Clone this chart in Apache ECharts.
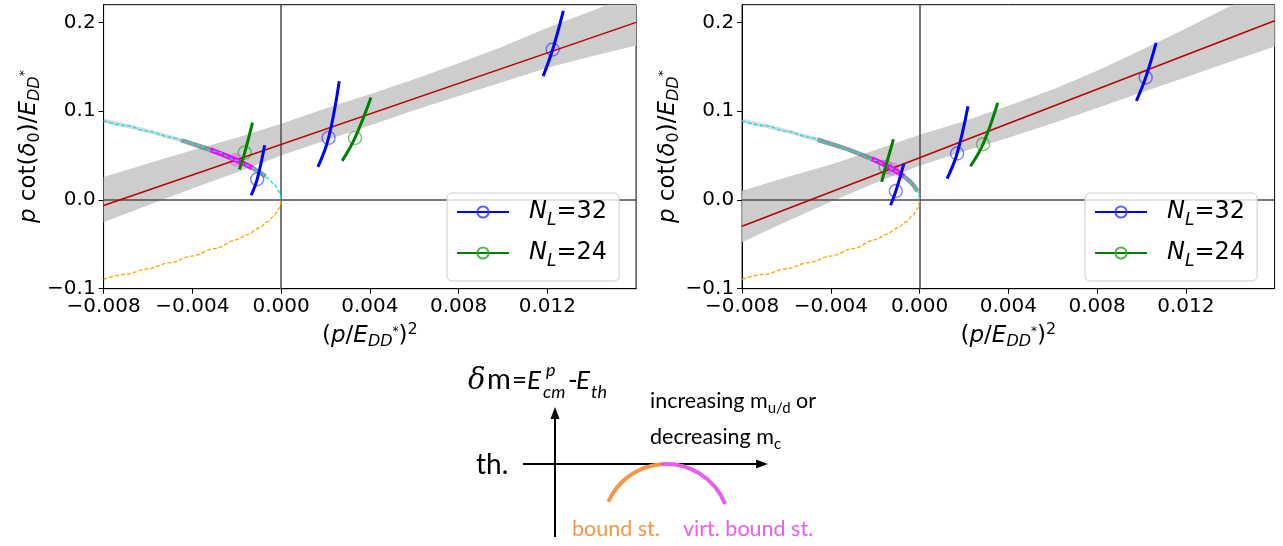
<!DOCTYPE html>
<html><head><meta charset="utf-8">
<script src="https://cdn.jsdelivr.net/npm/echarts@6/dist/echarts.min.js"></script>
<style>html,body{margin:0;padding:0;background:#fff}#c{width:1283px;height:546px}</style>
</head><body><div id="c"></div>
<script>
// ---------- tick labels ----------
const xTicks = [-0.008, -0.004, 0, 0.004, 0.008, 0.012];
const xTickLabels = ['\u22120.008', '\u22120.004', '0.000', '0.004', '0.008', '0.012'];
const yTicks = [-0.1, 0, 0.1, 0.2];
const yTickLabels = ['\u22120.1', '0.0', '0.1', '0.2'];

// ---------- threshold curves ----------
const curveX  = [-0.008, -0.007, -0.006, -0.005, -0.004, -0.003, -0.002, -0.0015, -0.001, -0.0006, -0.0003, -0.0001, 0];
const cyanY   = [0.0894, 0.0837, 0.0775, 0.0707, 0.0632, 0.0548, 0.0447, 0.0387, 0.0316, 0.0245, 0.0173, 0.0100, 0];
const orangeY = [-0.0894, -0.0837, -0.0775, -0.0707, -0.0632, -0.0548, -0.0447, -0.0387, -0.0316, -0.0245, -0.0173, -0.0100, 0];

// ---------- left panel ----------
const bandX = [-0.008, -0.006, -0.004, -0.002, 0, 0.002, 0.004, 0.006, 0.008, 0.010, 0.012, 0.014, 0.016];
const bandUpperL = [0.026, 0.041, 0.056, 0.070, 0.086, 0.103, 0.119, 0.136, 0.154, 0.173, 0.194, 0.213, 0.233];
const bandLowerL = [-0.025, -0.006, 0.013, 0.031, 0.050, 0.067, 0.084, 0.101, 0.117, 0.133, 0.149, 0.162, 0.174];
const fitXL = [-0.008, 0.016];
const fitYL = [-0.0063, 0.2001];
const greyLightL = [[-0.008, 0.0894], [-0.007, 0.0837], [-0.006, 0.0775], [-0.005, 0.0707], [-0.0045, 0.0671]];
const greyDarkL = [[-0.0045, 0.0671], [-0.004, 0.0632], [-0.003, 0.0548], [-0.002, 0.0447], [-0.0015, 0.0387], [-0.001, 0.0316], [-0.0007, 0.0265]];
const magentaL = [[-0.0032, 0.0566], [-0.0028, 0.0529], [-0.0024, 0.049], [-0.002, 0.0447], [-0.0016, 0.04], [-0.0013, 0.0361]];
const poleL = [[-0.00204, 0.0452]];
const blueSegsL = [
  [[-0.00135, 0.0053], [-0.00108, 0.0233], [-0.00074, 0.0617]],
  [[0.00166, 0.0372], [0.00214, 0.0699], [0.00262, 0.1338]],
  [[0.01181, 0.1395], [0.01224, 0.1695], [0.01272, 0.2131]]
];
const greenSegsL = [
  [[-0.00188, 0.0342], [-0.00164, 0.0534], [-0.00129, 0.0872]],
  [[0.00275, 0.044], [0.00333, 0.0699], [0.00405, 0.1154]]
];
const blueMarksL = [[-0.00108, 0.0233], [0.00214, 0.0699], [0.01224, 0.1695]];
const greenMarksL = [[-0.00164, 0.0534], [0.00333, 0.0699]];

// ---------- right panel ----------
const bandUpperR = [0.0103, 0.0256, 0.0399, 0.0562, 0.0735, 0.0888, 0.1061, 0.1244, 0.1457, 0.169, 0.1933, 0.2186, 0.2439];
const bandLowerR = [-0.0477, -0.0244, -0.0021, 0.0192, 0.0385, 0.0548, 0.0701, 0.0864, 0.1037, 0.121, 0.1383, 0.1556, 0.1729];
const fitXR = [-0.008, 0.016];
const fitYR = [-0.0297, 0.2019];
const greyLightR = [[-0.008, 0.0894], [-0.007, 0.0837], [-0.006, 0.0775], [-0.005, 0.0707], [-0.0046, 0.0678]];
const greyDarkR = [[-0.0046, 0.0678], [-0.004, 0.0632], [-0.003, 0.0548], [-0.002, 0.0447], [-0.0015, 0.0387], [-0.001, 0.0316], [-0.0006, 0.0245], [-0.0003, 0.0173], [-0.0001, 0.0100]];
const magentaR = [[-0.00215, 0.0464], [-0.0018, 0.0424], [-0.0014, 0.0374], [-0.001, 0.0316], [-0.00072, 0.0268]];
const poleR = [[-0.00124, 0.0352]];
const blueSegsR = [
  [[-0.00131, -0.006], [-0.00107, 0.0101], [-0.00071, 0.041]],
  [[0.00124, 0.024], [0.00169, 0.0523], [0.00218, 0.1056]],
  [[0.00977, 0.1116], [0.01019, 0.138], [0.01066, 0.177]]
];
const greenSegsR = [
  [[-0.00171, 0.0203], [-0.00153, 0.0372], [-0.00118, 0.0684]],
  [[0.00229, 0.038], [0.00286, 0.0628], [0.00352, 0.1094]]
];
const blueMarksR = [[-0.00107, 0.0101], [0.00169, 0.0523], [0.01019, 0.138]];
const greenMarksR = [[-0.00153, 0.0372], [0.00286, 0.0628]];

const legendNames = ['NL32', 'NL24'];

// ---------- build ----------
const FONT = 'DejaVu Sans';
const DFONT = 'Lato, "Noto Sans", "DejaVu Sans", sans-serif';
const BLUE = '#0000ff', GREEN = '#008000';
const BLUE_M = 'rgba(40,40,255,0.75)', GREEN_M = 'rgba(40,160,40,0.8)';

function fmt(ticks, labels) {
  return function (v) {
    for (let i = 0; i < ticks.length; i++) if (Math.abs(v - ticks[i]) < 1e-9) return labels[i];
    return '';
  };
}
const LH = 28;
const richBase = {
  n: { fontFamily: FONT, fontSize: 23, lineHeight: LH, verticalAlign: 'middle', color: '#000' },
  i: { fontFamily: FONT, fontSize: 23, fontStyle: 'italic', lineHeight: LH, verticalAlign: 'middle', color: '#000' },
  sub: { fontFamily: FONT, fontSize: 16, fontStyle: 'italic', lineHeight: LH, verticalAlign: 'bottom', color: '#000' },
  subn: { fontFamily: FONT, fontSize: 16, lineHeight: LH, verticalAlign: 'bottom', color: '#000' },
  sup: { fontFamily: FONT, fontSize: 12, lineHeight: LH, verticalAlign: 'top', color: '#000', padding: [4, 0, 0, 0] },
  sup2: { fontFamily: FONT, fontSize: 16, lineHeight: LH, verticalAlign: 'top', color: '#000' }
};

const grids = [], xAxes = [], yAxes = [], series = [], legends = [];
const gridLefts = [103.6, 742.1];
const legendLefts = [447, 1085];

function panel(g, d) {
  grids.push({ left: gridLefts[g], top: 4.7, width: 532.5, height: 284, show: true, borderColor: '#000', borderWidth: 1, backgroundColor: 'transparent' });
  xAxes.push({
    gridIndex: g, type: 'value', min: -0.008, max: 0.016,
    axisLine: { onZero: false, lineStyle: { color: '#000', width: 1 } },
    axisTick: { show: true, length: 5, customValues: xTicks, lineStyle: { color: '#000' } },
    axisLabel: { customValues: xTicks, formatter: fmt(xTicks, xTickLabels), fontFamily: FONT, fontSize: 20, color: '#000', margin: 8 },
    splitLine: { show: false },
    name: '{n|(}{i|p}{n|/}{i|E}{sub|DD}{sup|*}{n|)}{sup2|2}',
    nameLocation: 'middle', nameGap: 32,
    nameTextStyle: { rich: richBase }
  });
  yAxes.push({
    gridIndex: g, type: 'value', min: -0.1, max: 0.22,
    axisLine: { onZero: false, lineStyle: { color: '#000', width: 1 } },
    axisTick: { show: true, length: 5, customValues: yTicks, lineStyle: { color: '#000' } },
    axisLabel: { customValues: yTicks, formatter: fmt(yTicks, yTickLabels), fontFamily: FONT, fontSize: 20, color: '#000', margin: 8 },
    splitLine: { show: false },
    name: '{i|p}{n| cot(}{i|\u03b4}{subn|0}{n|)/}{i|E}{sub|DD}{sup|*}',
    nameLocation: 'middle', nameGap: 60, nameRotate: 90,
    nameTextStyle: { rich: richBase }
  });
  const ax = { xAxisIndex: g, yAxisIndex: g, silent: true, animation: false };
  // uncertainty band (polygon through the axes' own scales)
  const bandData = bandX.map((x, i) => [x, d.lower[i], d.upper[i]]);
  series.push(Object.assign({
    type: 'custom', clip: true, data: bandData, z: 1,
    renderItem: function (params, api) {
      if (params.dataIndex !== 0) return null;
      const top = bandData.map(r => api.coord([r[0], r[2]]));
      const bot = bandData.map(r => api.coord([r[0], r[1]])).reverse();
      return { type: 'polygon', shape: { points: top.concat(bot) }, style: { fill: '#cdcdcd', stroke: null } };
    },
    encode: { x: 0, y: [1, 2] }
  }, ax));
  series.push(Object.assign({ type: 'line', symbol: 'none', data: [],
    markLine: { silent: true, symbol: ['none', 'none'], label: { show: false }, z: 2,
      lineStyle: { color: 'rgba(85,85,85,0.8)', width: 2, type: 'solid' },
      data: [{ xAxis: 0 }, { yAxis: 0 }] } }, ax));
  series.push(Object.assign({ type: 'line', symbol: 'none', lineStyle: { color: '#bb0000', width: 1.5 },
    data: d.fitX.map((x, i) => [x, d.fitY[i]]) }, ax));
  series.push(Object.assign({ type: 'line', symbol: 'none', smooth: 0.3, lineStyle: { color: 'rgba(150,150,150,0.35)', width: 4 }, data: d.greyLight }, ax));
  series.push(Object.assign({ type: 'line', symbol: 'none', smooth: 0.3, lineStyle: { color: 'rgba(105,105,105,0.7)', width: 4.5 }, data: d.greyDark }, ax));
  series.push(Object.assign({ type: 'line', symbol: 'none', smooth: 0.3, lineStyle: { color: '#ff00ff', width: 5 }, data: d.magenta }, ax));
  series.push(Object.assign({ type: 'line', symbol: 'none', smooth: 0.35, smoothMonotone: 'x', lineStyle: { color: '#12dfe6', width: 1.3, type: [4, 2] },
    data: curveX.map((x, i) => [x, cyanY[i]]) }, ax));
  series.push(Object.assign({ type: 'line', symbol: 'none', smooth: 0.35, smoothMonotone: 'x', lineStyle: { color: '#ffa500', width: 1.3, type: [4, 2] },
    data: curveX.map((x, i) => [x, orangeY[i]]) }, ax));
  d.blueSegs.forEach(s => series.push(Object.assign({ type: 'line', symbol: 'none', smooth: 0.4, lineStyle: { color: BLUE, width: 3 }, data: s }, ax)));
  d.greenSegs.forEach(s => series.push(Object.assign({ type: 'line', symbol: 'none', smooth: 0.4, lineStyle: { color: GREEN, width: 3 }, data: s }, ax)));
  series.push(Object.assign({ type: 'scatter', symbol: 'circle', symbolSize: 13,
    itemStyle: { color: 'rgba(0,0,0,0)', borderColor: BLUE_M, borderWidth: 1.4 }, data: d.blueMarks }, ax));
  series.push(Object.assign({ type: 'scatter', symbol: 'circle', symbolSize: 13,
    itemStyle: { color: 'rgba(0,0,0,0)', borderColor: GREEN_M, borderWidth: 1.4 }, data: d.greenMarks }, ax));
  series.push(Object.assign({ type: 'scatter', symbol: 'circle', symbolSize: 14,
    itemStyle: { color: 'rgba(225,90,225,0.6)' }, data: d.pole }, ax));
  // legend entries
  series.push(Object.assign({ type: 'line', name: 'NL32', data: [], symbol: 'circle', symbolSize: 13,
    lineStyle: { color: BLUE, width: 3 }, itemStyle: { color: 'rgba(0,0,0,0)', borderColor: BLUE_M, borderWidth: 1.5 } }, ax));
  series.push(Object.assign({ type: 'line', name: 'NL24', data: [], symbol: 'circle', symbolSize: 13,
    lineStyle: { color: GREEN, width: 3 }, itemStyle: { color: 'rgba(0,0,0,0)', borderColor: GREEN_M, borderWidth: 1.5 } }, ax));
  legends.push({
    data: legendNames, orient: 'vertical', left: legendLefts[g], top: 193, selectedMode: false,
    padding: [7, 12, 11, 9], itemGap: 12, itemWidth: 52, itemHeight: 14,
    borderColor: '#cccccc', borderWidth: 1, borderRadius: 5, backgroundColor: 'rgba(255,255,255,0.8)',
    formatter: n => n === 'NL32' ? '{g|}{i|N}{s|L}{n|=32}' : '{g|}{i|N}{s|L}{n|=24}',
    textStyle: {
      fontFamily: FONT, fontSize: 24, color: '#000',
      rich: {
        g: { width: 15, lineHeight: 26 },
        i: { fontFamily: FONT, fontSize: 24, fontStyle: 'italic', lineHeight: 26, verticalAlign: 'middle' },
        s: { fontFamily: FONT, fontSize: 17, fontStyle: 'italic', lineHeight: 26, verticalAlign: 'bottom', padding: [0, 0, -4, 0] },
        n: { fontFamily: FONT, fontSize: 24, lineHeight: 26, verticalAlign: 'middle' }
      }
    }
  });
}

panel(0, { upper: bandUpperL, lower: bandLowerL, fitX: fitXL, fitY: fitYL, greyLight: greyLightL, greyDark: greyDarkL,
  magenta: magentaL, pole: poleL, blueSegs: blueSegsL, greenSegs: greenSegsL, blueMarks: blueMarksL, greenMarks: greenMarksL });
panel(1, { upper: bandUpperR, lower: bandLowerR, fitX: fitXR, fitY: fitYR, greyLight: greyLightR, greyDark: greyDarkR,
  magenta: magentaR, pole: poleR, blueSegs: blueSegsR, greenSegs: greenSegsR, blueMarks: blueMarksR, greenMarks: greenMarksR });

// ---------- schematic diagram ----------
const ORANGE = '#f79646', PINK = '#e95de9';
function t(text, x, base, size, opts) {
  opts = opts || {};
  return { type: 'text', x: x, y: base, silent: true,
    style: { text: text, fontFamily: opts.family || DFONT, fontSize: size, fontStyle: opts.italic ? 'italic' : 'normal',
      fill: opts.color || '#000', align: 'left', verticalAlign: 'bottom', lineHeight: size } };
}
function rt(text, x, base, rich) {
  return { type: 'text', x: x, y: base, silent: true,
    style: { text: text, align: 'left', verticalAlign: 'bottom', rich: rich } };
}
const noteRich = {
  n: { fontFamily: DFONT, fontSize: 21.5, lineHeight: 30, verticalAlign: 'middle', fill: '#000' },
  s: { fontFamily: DFONT, fontSize: 15, lineHeight: 30, verticalAlign: 'bottom', fill: '#000' }
};
const graphics = [
  t('\u03b4', 468, 396, 29, { italic: true, family: '"DejaVu Serif", serif' }),
  t('m', 487, 394, 29),
  t('=', 512, 394, 26),
  t('E', 527, 394, 26, { italic: true }),
  t('p', 546, 379, 18, { italic: true }),
  t('cm', 543, 401, 18, { italic: true }),
  t('-', 568, 394, 26),
  t('E', 576, 394, 26, { italic: true }),
  t('th', 591, 401, 18, { italic: true }),
  rt('{n|increasing m}{s|u/d}{n| or}', 650, 416, noteRich),
  rt('{n|decreasing m}{s|c}', 650, 452, noteRich),
  t('th.', 476, 479, 28),
  t('bound st.', 572, 540, 21.5, { color: ORANGE }),
  t('virt. bound st.', 683, 540, 21.5, { color: PINK }),
  { type: 'line', silent: true, shape: { x1: 523, y1: 464, x2: 760, y2: 464 }, style: { stroke: '#000', lineWidth: 2 } },
  { type: 'polygon', silent: true, shape: { points: [[768, 464], [756, 459.5], [756, 468.5]] }, style: { fill: '#000' } },
  { type: 'line', silent: true, shape: { x1: 555, y1: 537, x2: 555, y2: 416 }, style: { stroke: '#000', lineWidth: 2 } },
  { type: 'polygon', silent: true, shape: { points: [[555, 407], [550.5, 419], [559.5, 419]] }, style: { fill: '#000' } },
  { type: 'arc', silent: true, shape: { cx: 666.2, cy: 527.3, r: 63.3, startAngle: 3.558, endAngle: 4.638, clockwise: true },
    style: { stroke: ORANGE, lineWidth: 4, fill: null } },
  { type: 'arc', silent: true, shape: { cx: 666.2, cy: 527.3, r: 63.3, startAngle: 4.638, endAngle: 5.906, clockwise: true },
    style: { stroke: PINK, lineWidth: 4, fill: null } }
];

const chart = echarts.init(document.getElementById('c'), null, { renderer: 'canvas' });
chart.setOption({
  animation: false,
  backgroundColor: '#fff',
  grid: grids, xAxis: xAxes, yAxis: yAxes, series: series, legend: legends,
  graphic: graphics
});
</script>
</body></html>
